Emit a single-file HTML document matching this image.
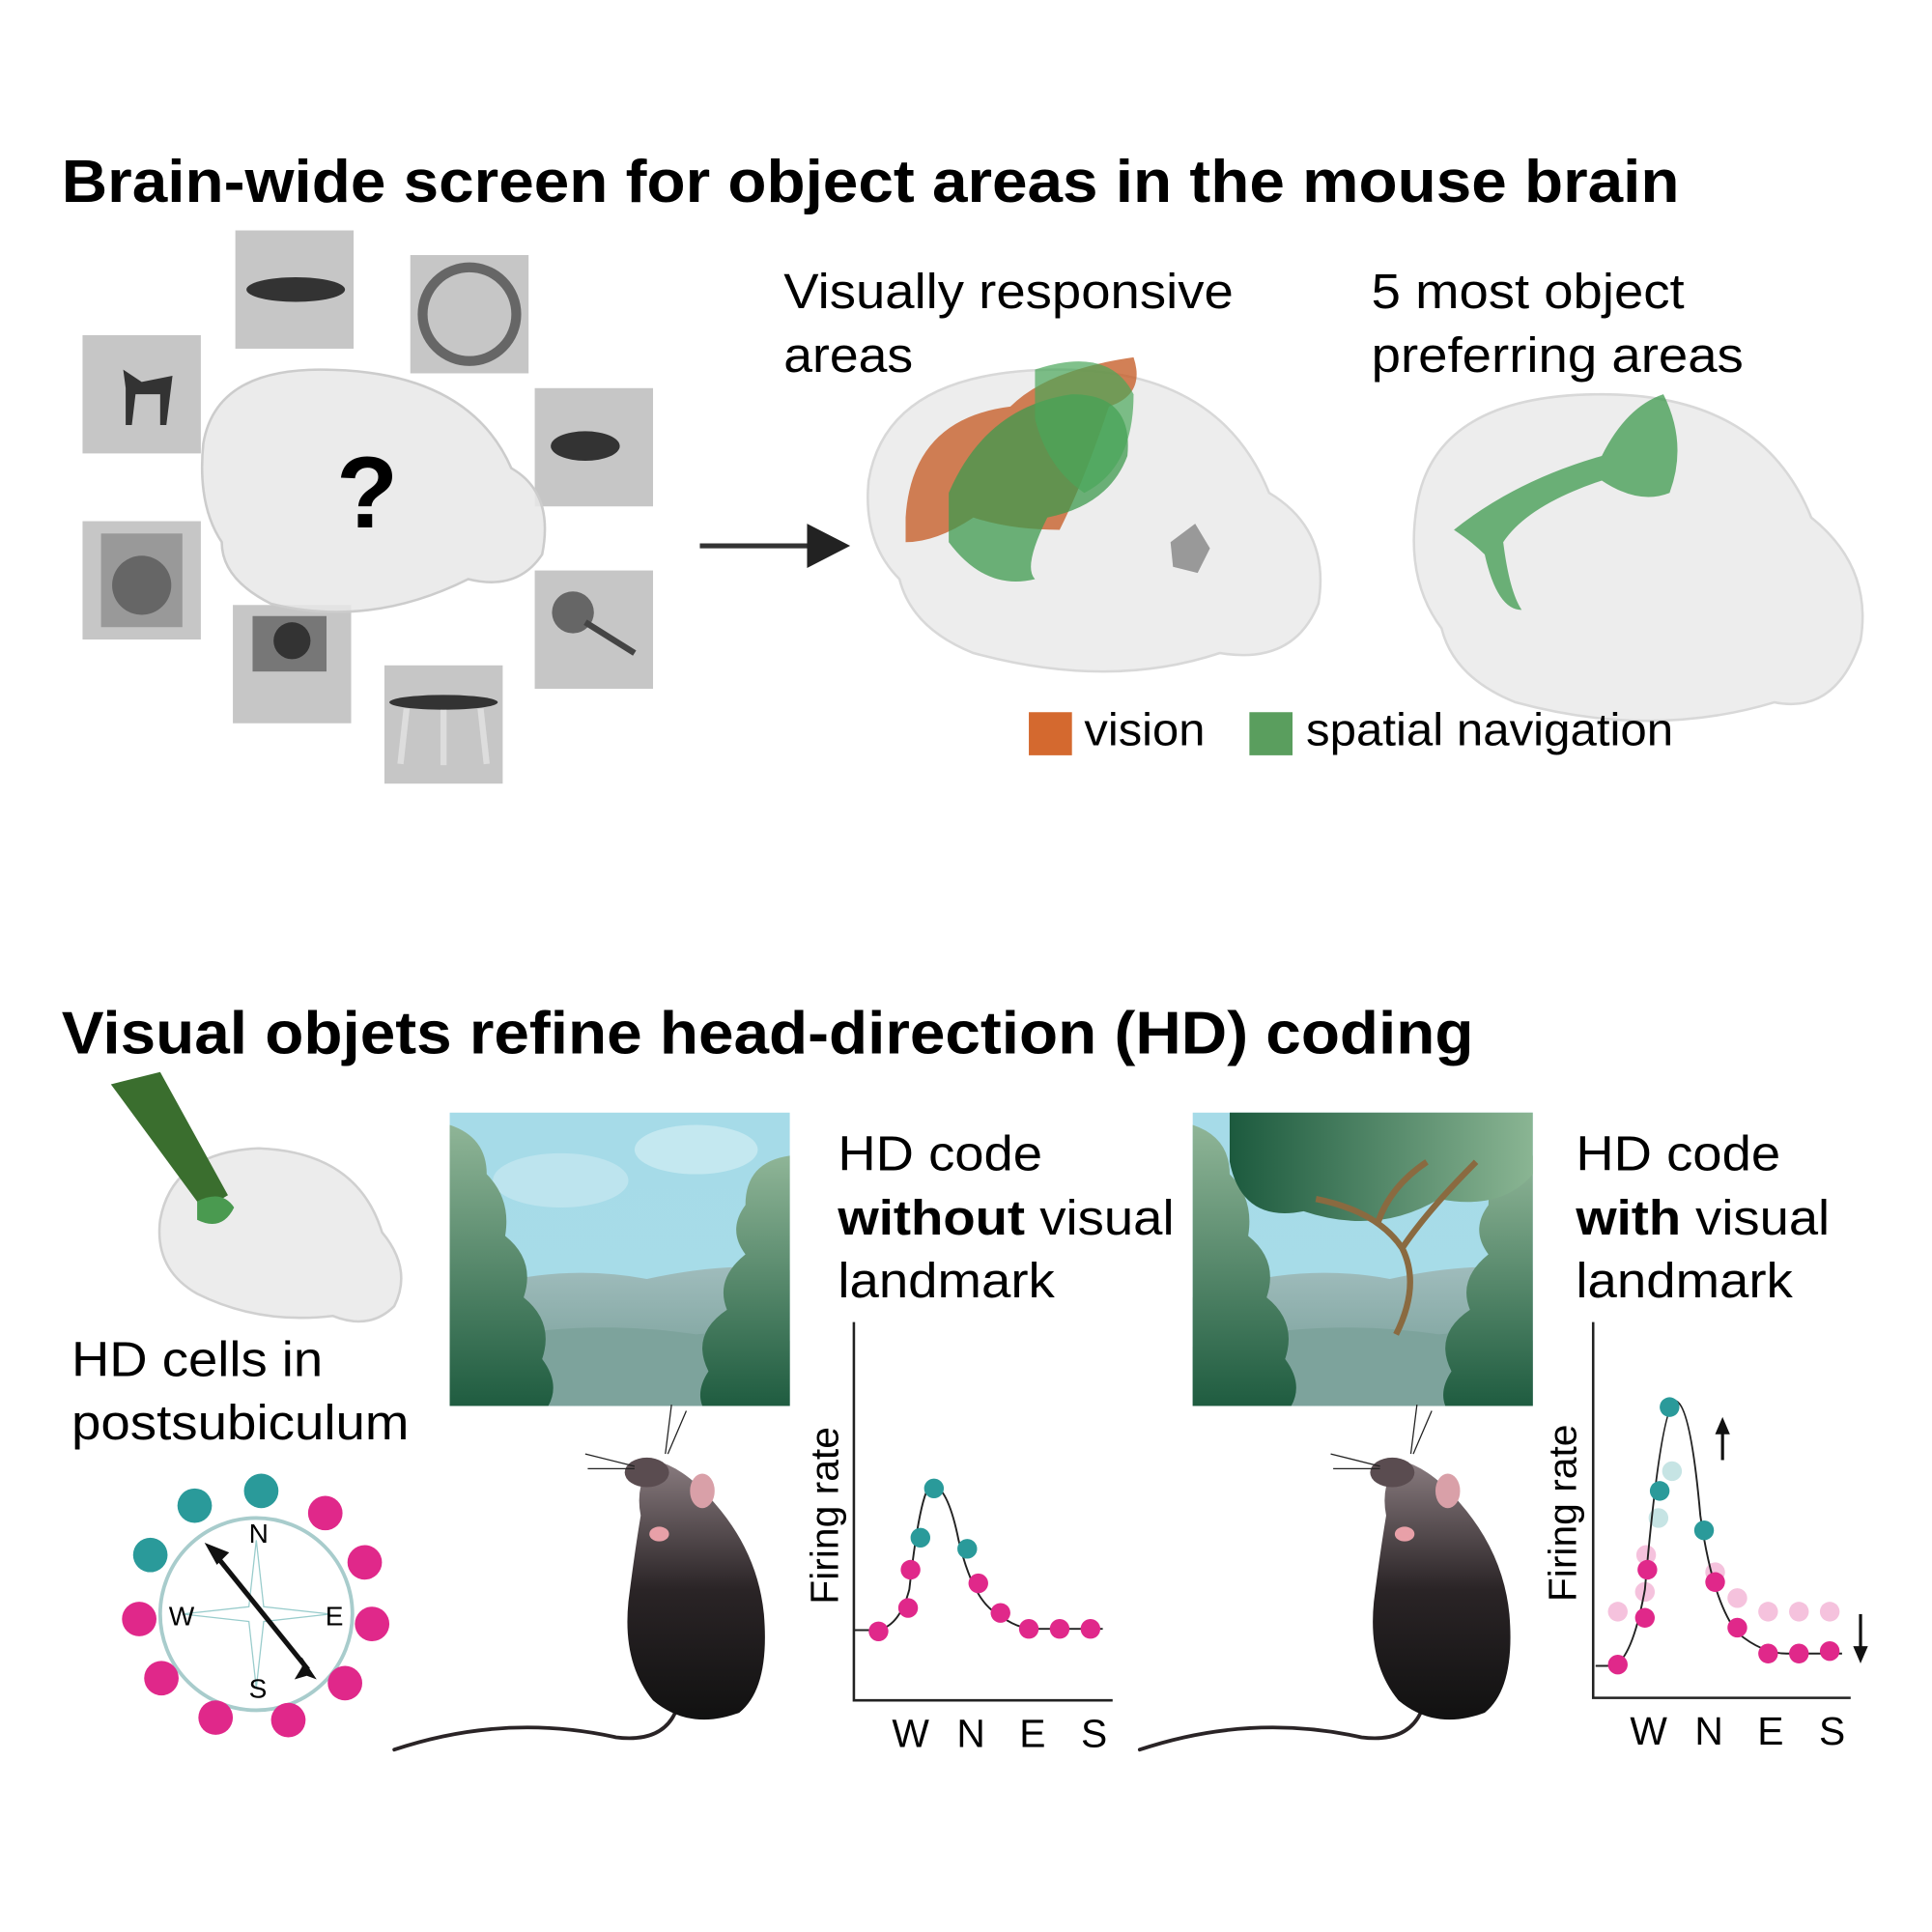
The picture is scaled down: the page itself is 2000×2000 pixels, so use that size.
<!DOCTYPE html>
<html><head><meta charset="utf-8"><style>html,body{margin:0;padding:0;background:#fff}svg{display:block}text{font-family:"Liberation Sans",sans-serif}</style></head>
<body>
<svg width="2000" height="2000" viewBox="0 0 1568 1568" xmlns="http://www.w3.org/2000/svg">
<defs>
<linearGradient id="sky" x1="0" y1="0" x2="0" y2="1"><stop offset="0" stop-color="#a6dbe8"/><stop offset="1" stop-color="#a8dce8"/></linearGradient>
<linearGradient id="bush" x1="0" y1="0" x2="0" y2="1"><stop offset="0" stop-color="#8fb597"/><stop offset="1" stop-color="#1f5c40"/></linearGradient>
<linearGradient id="bush2" x1="0" y1="0" x2="1" y2="0"><stop offset="0" stop-color="#1c5a3e"/><stop offset="1" stop-color="#8ab593"/></linearGradient>
<linearGradient id="hill" x1="0" y1="0" x2="0" y2="1"><stop offset="0" stop-color="#9fbcbc"/><stop offset="1" stop-color="#6f9890"/></linearGradient>
<linearGradient id="mouse" x1="0" y1="0" x2="0" y2="1"><stop offset="0" stop-color="#8a7c80"/><stop offset="0.5" stop-color="#2a2426"/><stop offset="1" stop-color="#111"/></linearGradient>
<g id="land">
<rect width="276" height="238" fill="url(#sky)"/>
<ellipse cx="200" cy="30" rx="50" ry="20" fill="#c4e8f0"/>
<ellipse cx="90" cy="55" rx="55" ry="22" fill="#bde4ee"/>
<path d="M0 150 Q80 120 160 135 Q230 120 276 128 V238 H0Z" fill="url(#hill)"/>
<path d="M0 190 Q100 165 200 180 Q250 175 276 185 V238 H0Z" fill="#7da39c"/>
<path d="M0 10 Q30 20 30 50 Q50 70 45 100 Q70 120 60 150 Q85 170 75 200 Q90 220 80 238 H0Z" fill="url(#bush)"/>
<path d="M276 35 Q240 40 240 75 Q225 95 240 115 Q215 135 225 160 Q195 180 210 210 Q200 225 205 238 H276Z" fill="url(#bush)"/>
</g>
<g id="mouseS">
<path d="M-240 130 Q-150 100 -60 120 Q-20 125 -10 95" fill="none" stroke="#2a2426" stroke-width="3" stroke-linecap="round"/>
<path d="M-30 -105 Q-5 -100 20 -70 Q55 -30 60 20 Q65 80 40 100 Q0 115 -30 90 Q-55 60 -50 10 Q-45 -30 -40 -60 Q-45 -85 -30 -105Z" fill="url(#mouse)"/>
<ellipse cx="-35" cy="-95" rx="18" ry="12" fill="#5a4c50"/>
<ellipse cx="10" cy="-80" rx="10" ry="14" fill="#d9a0a8"/>
<ellipse cx="-25" cy="-45" rx="8" ry="6" fill="#e8a0a8"/>
<path d="M-45 -100 l-40 -10 M-45 -98 l-38 0 M-20 -110 l5 -40 M-18 -110 l15 -35" stroke="#222" stroke-width="1"/>
</g>
</defs>
<text x="50" y="164" font-size="49" font-weight="bold" textLength="1313" lengthAdjust="spacingAndGlyphs">Brain-wide screen for object areas in the mouse brain</text>
<g fill="#c6c6c6">
<rect x="67" y="272" width="96" height="96"/><rect x="191" y="187" width="96" height="96"/><rect x="333" y="207" width="96" height="96"/><rect x="434" y="315" width="96" height="96"/><rect x="67" y="423" width="96" height="96"/><rect x="189" y="491" width="96" height="96"/><rect x="434" y="463" width="96" height="96"/><rect x="312" y="540" width="96" height="96"/>
</g>
<g fill="#333"><path d="M100 300 l15 10 l25 -5 l-5 40 h-5 l0 -25 h-20 l-3 25 h-5 l0 -30Z"/><ellipse cx="240" cy="235" rx="40" ry="10"/><circle cx="381" cy="255" r="38" fill="none" stroke="#666" stroke-width="8"/><ellipse cx="475" cy="362" rx="28" ry="12"/><rect x="82" y="433" width="66" height="76" fill="#999"/><circle cx="115" cy="475" r="24" fill="#666"/><rect x="205" y="500" width="60" height="45" fill="#777"/><circle cx="237" cy="520" r="15" fill="#333"/><circle cx="465" cy="497" r="17" fill="#666"/><path d="M475 505 l40 25" stroke="#444" stroke-width="5"/><ellipse cx="360" cy="570" rx="44" ry="6"/><path d="M330 575 l-5 45 M390 575 l5 45 M360 576 v45" stroke="#ddd" stroke-width="5"/></g>
<path d="M165 360 Q175 300 260 300 Q380 300 415 380 Q450 400 440 450 Q420 480 380 470 Q300 510 220 490 Q180 470 180 440 Q160 410 165 360Z" fill="#e8e8e8" fill-opacity="0.85" stroke="#ccc" stroke-width="2"/>
<text x="298" y="428" font-size="82" font-weight="bold" text-anchor="middle" font-family="Liberation Serif,serif">?</text>
<path d="M568 443 H660" stroke="#333" stroke-width="4"/><path d="M655 425 L690 443 L655 461Z" fill="#222"/>
<text x="636" y="250" font-size="40" textLength="365" lengthAdjust="spacingAndGlyphs">Visually responsive</text><text x="636" y="302" font-size="40" textLength="105" lengthAdjust="spacingAndGlyphs">areas</text>
<text x="1113" y="250" font-size="40" textLength="254" lengthAdjust="spacingAndGlyphs">5 most object</text><text x="1113" y="302" font-size="40" textLength="302" lengthAdjust="spacingAndGlyphs">preferring areas</text>
<path d="M705 390 Q720 300 860 300 Q990 300 1030 400 Q1080 430 1070 490 Q1050 540 990 530 Q900 560 790 530 Q740 510 730 470 Q700 440 705 390Z" fill="#ededed" stroke="#d8d8d8" stroke-width="2"/>
<path d="M735 420 Q740 340 820 330 Q850 300 920 290 Q930 320 900 330 Q880 390 860 430 Q820 430 790 420 Q760 440 735 440Z" fill="#c7602c" fill-opacity="0.8"/>
<path d="M770 400 Q800 330 870 320 Q920 320 915 370 Q900 410 850 420 Q830 460 840 470 Q800 480 770 440Z" fill="#3e9a4e" fill-opacity="0.75"/>
<path d="M840 300 Q900 280 920 320 Q920 380 880 400 Q850 380 840 340Z" fill="#4aa65a" fill-opacity="0.7"/>
<path d="M950 440 l20 -15 l12 20 l-10 20 l-20 -5Z" fill="#999"/>
<path d="M1150 410 Q1165 320 1300 320 Q1430 320 1470 420 Q1520 460 1510 520 Q1490 580 1440 570 Q1340 600 1230 570 Q1180 550 1170 510 Q1140 470 1150 410Z" fill="#ededed" stroke="#d8d8d8" stroke-width="2"/>
<path d="M1180 430 Q1230 390 1300 370 Q1320 330 1350 320 Q1370 360 1355 400 Q1330 410 1300 390 Q1240 410 1220 440 Q1225 480 1235 495 Q1215 495 1205 450 Q1195 440 1180 430Z" fill="#3e9a4e" fill-opacity="0.75"/>
<rect x="835" y="578" width="35" height="35" fill="#d4692f"/><text x="880" y="605" font-size="37" textLength="98" lengthAdjust="spacingAndGlyphs">vision</text>
<rect x="1014" y="578" width="35" height="35" fill="#5a9e5e"/><text x="1060" y="605" font-size="37" textLength="298" lengthAdjust="spacingAndGlyphs">spatial navigation</text>
<text x="50" y="855" font-size="49" font-weight="bold" textLength="1146" lengthAdjust="spacingAndGlyphs">Visual objets refine head-direction (HD) coding</text>
<path d="M130 990 Q140 935 210 932 Q290 935 310 1000 Q335 1030 320 1060 Q300 1080 270 1068 Q210 1075 160 1050 Q125 1030 130 990Z" fill="#ececec" stroke="#d0d0d0" stroke-width="2"/>
<path d="M90 880 l40 -10 l55 100 l-20 12Z" fill="#3a6e2e"/><path d="M160 975 q20 -10 30 5 q-10 20 -30 10Z" fill="#4a9a50"/>
<text x="58" y="1117" font-size="40" textLength="204" lengthAdjust="spacingAndGlyphs">HD cells in</text><text x="58" y="1168" font-size="40" textLength="274" lengthAdjust="spacingAndGlyphs">postsubiculum</text>
<circle cx="208" cy="1310" r="78" fill="none" stroke="#a8cccc" stroke-width="3"/>
<path d="M208 1250 L214 1304 L268 1310 L214 1316 L208 1370 L202 1316 L148 1310 L202 1304Z" fill="none" stroke="#9cc" stroke-width="1"/>
<path d="M250 1355 L175 1262" stroke="#111" stroke-width="4"/><path d="M166 1252 l20 8 l-10 10Z" fill="#111"/><path d="M245 1345 l12 18 l-8 -3 l-10 3 l6 -10Z" fill="#111"/>
<g font-family="Liberation Serif,serif" font-size="22"><text x="202" y="1252">N</text><text x="202" y="1378">S</text><text x="137" y="1319">W</text><text x="264" y="1319">E</text></g>
<g fill="#2a9a9a"><circle cx="158" cy="1222" r="14"/><circle cx="212" cy="1210" r="14"/><circle cx="122" cy="1262" r="14"/></g>
<g fill="#e0288a"><circle cx="264" cy="1228" r="14"/><circle cx="296" cy="1268" r="14"/><circle cx="302" cy="1318" r="14"/><circle cx="280" cy="1366" r="14"/><circle cx="234" cy="1396" r="14"/><circle cx="175" cy="1394" r="14"/><circle cx="131" cy="1362" r="14"/><circle cx="113" cy="1314" r="14"/></g>
<use href="#land" x="365" y="903"/>
<use href="#land" x="968" y="903"/>
<g transform="translate(968,903)"><path d="M30 0 H276 V50 Q250 80 200 70 Q150 100 90 80 Q40 90 30 40Z" fill="url(#bush2)"/><path d="M165 180 Q185 140 170 110 Q150 80 100 70 M170 110 Q190 80 230 40 M150 90 Q160 60 190 40" stroke="#8a6a40" stroke-width="5" fill="none"/></g>
<use href="#mouseS" x="560" y="1290"/>
<use href="#mouseS" x="1165" y="1290"/>
<text x="680" y="950" font-size="40" textLength="166" lengthAdjust="spacingAndGlyphs">HD code</text><text x="680" y="1002" font-size="40" textLength="273" lengthAdjust="spacingAndGlyphs"><tspan font-weight="bold">without</tspan> visual</text><text x="680" y="1053" font-size="40" textLength="176" lengthAdjust="spacingAndGlyphs">landmark</text>
<text x="1279" y="950" font-size="40" textLength="166" lengthAdjust="spacingAndGlyphs">HD code</text><text x="1279" y="1002" font-size="40" textLength="206" lengthAdjust="spacingAndGlyphs"><tspan font-weight="bold">with</tspan> visual</text><text x="1279" y="1053" font-size="40" textLength="176" lengthAdjust="spacingAndGlyphs">landmark</text>
<path d="M693 1073 V1380 H903" fill="none" stroke="#222" stroke-width="2"/>
<text transform="translate(680,1230) rotate(-90)" font-size="32" text-anchor="middle">Firing rate</text>
<g font-size="32" text-anchor="middle"><text x="739" y="1418">W</text><text x="788" y="1418">N</text><text x="838" y="1418">E</text><text x="888" y="1418">S</text></g>
<path d="M693 1323 H712 Q730 1320 738 1290 Q748 1200 758 1205 Q770 1210 778 1250 Q790 1300 810 1310 Q825 1322 840 1322 H895" fill="none" stroke="#222" stroke-width="1.5"/>
<g fill="#e0288a"><circle cx="713" cy="1324" r="8"/><circle cx="737" cy="1305" r="8"/><circle cx="739" cy="1274" r="8"/><circle cx="794" cy="1285" r="8"/><circle cx="812" cy="1309" r="8"/><circle cx="835" cy="1322" r="8"/><circle cx="860" cy="1322" r="8"/><circle cx="885" cy="1322" r="8"/></g>
<g fill="#2a9a9a"><circle cx="747" cy="1248" r="8"/><circle cx="758" cy="1208" r="8"/><circle cx="785" cy="1257" r="8"/></g>
<path d="M1293 1073 V1378 H1502" fill="none" stroke="#222" stroke-width="2"/>
<text transform="translate(1279,1228) rotate(-90)" font-size="32" text-anchor="middle">Firing rate</text>
<g font-size="32" text-anchor="middle"><text x="1338" y="1416">W</text><text x="1387" y="1416">N</text><text x="1437" y="1416">E</text><text x="1487" y="1416">S</text></g>
<g fill="#f5c2dd"><circle cx="1313" cy="1308" r="8"/><circle cx="1335" cy="1292" r="8"/><circle cx="1336" cy="1262" r="8"/><circle cx="1392" cy="1276" r="8"/><circle cx="1410" cy="1297" r="8"/><circle cx="1435" cy="1308" r="8"/><circle cx="1460" cy="1308" r="8"/><circle cx="1485" cy="1308" r="8"/></g>
<g fill="#c6e4e4"><circle cx="1346" cy="1232" r="8"/><circle cx="1357" cy="1194" r="8"/></g>
<path d="M1295 1352 H1310 Q1325 1345 1335 1290 Q1348 1140 1360 1137 Q1372 1140 1380 1230 Q1390 1300 1410 1325 Q1430 1342 1450 1342 H1495" fill="none" stroke="#222" stroke-width="1.5"/>
<g fill="#e0288a"><circle cx="1313" cy="1351" r="8"/><circle cx="1335" cy="1313" r="8"/><circle cx="1337" cy="1274" r="8"/><circle cx="1392" cy="1284" r="8"/><circle cx="1410" cy="1321" r="8"/><circle cx="1435" cy="1342" r="8"/><circle cx="1460" cy="1342" r="8"/><circle cx="1485" cy="1340" r="8"/></g>
<g fill="#2a9a9a"><circle cx="1347" cy="1210" r="8"/><circle cx="1355" cy="1142" r="8"/><circle cx="1383" cy="1242" r="8"/></g>
<path d="M1398 1185 V1160" stroke="#111" stroke-width="2.5"/><path d="M1392 1164 l6 -14 l6 14Z" fill="#111"/>
<path d="M1510 1310 V1340" stroke="#111" stroke-width="2.5"/><path d="M1504 1336 l6 14 l6 -14Z" fill="#111"/>
</svg>
</body></html>
